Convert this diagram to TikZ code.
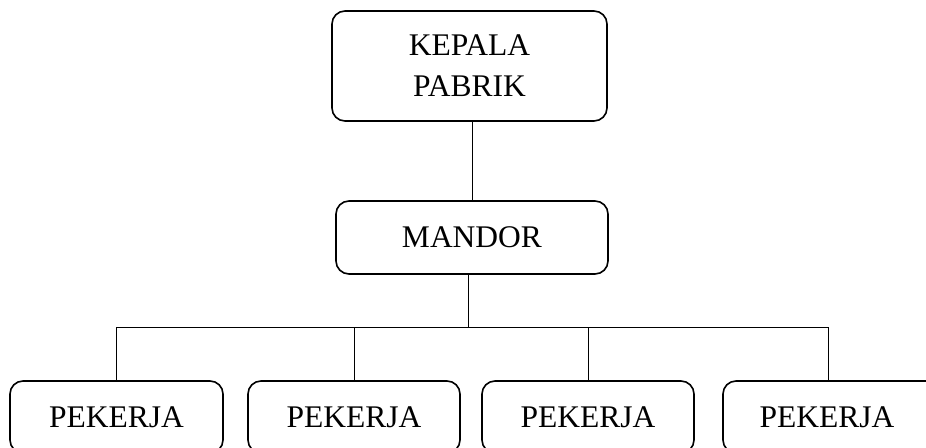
\documentclass[tikz,border=0pt]{standalone}
\usepackage{fontspec}
\setmainfont{Liberation Serif}
\begin{document}
\begin{tikzpicture}[x=1pt,y=-1pt,
  box/.style={draw, line width=1.6pt, rounded corners=13pt, inner sep=0pt, align=center,
    font=\fontsize{31.5}{41}\selectfont},
  conn/.style={draw, line width=0.9pt}]
\useasboundingbox (0,0) rectangle (926,447);
\clip (0,0) rectangle (926,447);
\node[box, minimum width=275pt, minimum height=110pt] (top) at (469.5,66) {KEPALA\\PABRIK};
\node[box, minimum width=272pt, minimum height=73pt] (mandor) at (472,237.5) {MANDOR};
\node[box, minimum width=213pt, minimum height=72pt] (p1) at (116.5,417) {PEKERJA};
\node[box, minimum width=212pt, minimum height=72pt] (p2) at (354,417) {PEKERJA};
\node[box, minimum width=212pt, minimum height=72pt] (p3) at (588,417) {PEKERJA};
\node[box, minimum width=220pt, minimum height=72pt] (p4) at (833,417) {\hspace*{-12pt}PEKERJA};
\coordinate (bus) at (468,327);
\draw[conn] (mandor.north) -- (mandor.north |- top.south);
\draw[conn] (mandor.south -| bus) -- (bus);
\draw[conn] (p1.north |- bus) -- (828,327);
\draw[conn] (p1.north |- bus) -- (p1.north);
\draw[conn] (p2.north |- bus) -- (p2.north);
\draw[conn] (p3.north |- bus) -- (p3.north);
\draw[conn] (828,327) -- (p4.north -| 828,0);
\end{tikzpicture}
\end{document}
